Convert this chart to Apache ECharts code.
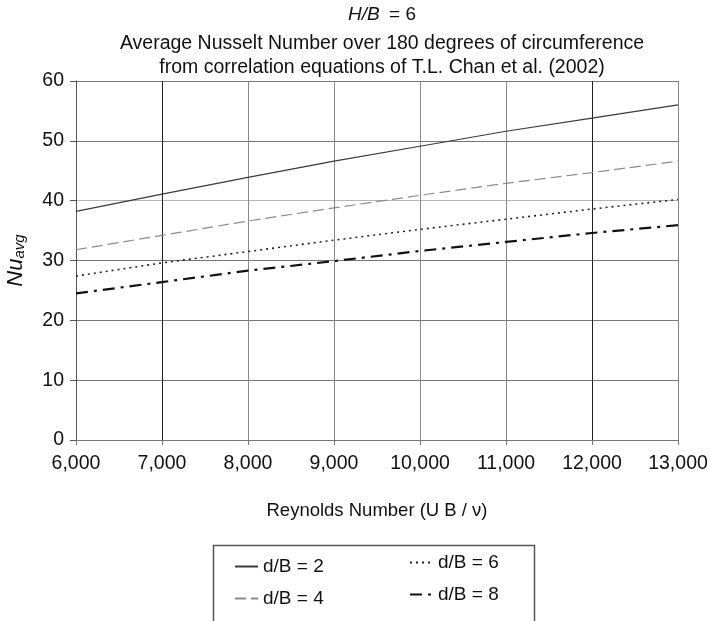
<!DOCTYPE html>
<html>
<head>
<meta charset="utf-8">
<style>
  html, body { margin: 0; padding: 0; background: #fff; }
  #chart { width: 710px; height: 621px; }
</style>
<script src="https://cdn.jsdelivr.net/npm/echarts@6/dist/echarts.min.js"></script>
</head>
<body>
<div id="chart"></div>
<script>
// Reynolds numbers on the x axis
const reynolds = [6000, 7000, 8000, 9000, 10000, 11000, 12000, 13000];

// Nu_avg for each d/B
const nuDB2 = [38.2, 41.1, 43.9, 46.6, 49.1, 51.6, 53.8, 56.0];
const nuDB4 = [31.8, 34.2, 36.6, 38.8, 40.9, 42.9, 44.7, 46.6];
const nuDB6 = [27.4, 29.6, 31.5, 33.4, 35.2, 36.9, 38.6, 40.2];
const nuDB8 = [24.5, 26.4, 28.3, 29.9, 31.6, 33.1, 34.6, 35.9];

const seriesNames = ['d/B = 2', 'd/B = 4', 'd/B = 6', 'd/B = 8'];

const FONT = '"Liberation Sans", Arial, sans-serif';

function pairs(values) {
    return reynolds.map((re, i) => [re, values[i]]);
}

function fmtThousands(v) {
    return String(v).replace(/\B(?=(\d{3})+(?!\d))/g, ',');
}

const lineStyles = [
    { color: '#3a3a3a', width: 1.2, type: 'solid' },
    { color: '#8a8a8a', width: 1.2, type: [11, 5] },
    { color: '#222', width: 1.6, type: [2, 4] },
    { color: '#111', width: 2.2, type: [12, 6, 3, 6] }
];

const legendCommon = {
    orient: 'vertical',
    itemWidth: 23,
    itemHeight: 14,
    itemGap: 13,
    itemStyle: { opacity: 0 },
    textStyle: { fontFamily: FONT, fontSize: 19, color: '#111' }
};

const chart = echarts.init(document.getElementById('chart'));

chart.setOption({
    backgroundColor: '#fff',
    animation: false,
    textStyle: { fontFamily: FONT, color: '#111' },
    title: [
        {
            text: '{i|H/B} = 6',
            left: 377,
            top: 0,
            textAlign: 'center',
            textStyle: {
                fontFamily: FONT, fontSize: 19, fontWeight: 'normal', color: '#111',
                rich: { i: { fontFamily: FONT, fontSize: 19, fontStyle: 'italic', color: '#111', padding: [0, 4, 0, 0] } }
            }
        },
        {
            text: 'Average Nusselt Number over 180 degrees of circumference\nfrom correlation equations of T.L. Chan et al. (2002)',
            left: 377,
            top: 27,
            textAlign: 'center',
            textStyle: { fontFamily: FONT, fontSize: 19.5, fontWeight: 'normal', color: '#111', lineHeight: 24 }
        }
    ],
    grid: { left: 76, right: 32, top: 81, bottom: 181, outerBoundsMode: 'none' },
    legend: [
        Object.assign({ data: [seriesNames[0], seriesNames[1]], left: 229, top: 552 }, legendCommon),
        Object.assign({ data: [seriesNames[2], seriesNames[3]], left: 404, top: 548 }, legendCommon)
    ],
    graphic: [
        {
            type: 'rect',
            left: 211,
            top: 543,
            shape: { width: 321, height: 100 },
            style: { fill: 'none', stroke: '#555', lineWidth: 1.5 },
            silent: true
        }
    ],
    xAxis: {
        type: 'value',
        min: 6000,
        max: 13000,
        interval: 1000,
        name: 'Reynolds Number (U B / \u03bd)',
        nameLocation: 'middle',
        nameGap: 61,
        nameTextStyle: { fontFamily: FONT, fontSize: 18.5, color: '#111' },
        axisLine: { show: true, onZero: false, lineStyle: { color: '#777', width: 1 } },
        axisTick: { show: true, length: 5, lineStyle: { color: '#777' } },
        axisLabel: {
            fontFamily: FONT, fontSize: 19.5, color: '#111', margin: 14,
            formatter: fmtThousands
        },
        splitLine: {
            show: true,
            lineStyle: { color: ['#8a8a8a', '#222', '#8a8a8a', '#8a8a8a', '#8a8a8a'], width: 1 }
        }
    },
    yAxis: {
        type: 'value',
        min: 0,
        max: 60,
        interval: 10,
        name: '{nu|Nu}{sub|avg}',
        nameLocation: 'middle',
        nameRotate: 90,
        nameGap: 49,
        nameTextStyle: {
            rich: {
                nu: { fontFamily: FONT, fontSize: 22, fontStyle: 'italic', color: '#111', lineHeight: 24, verticalAlign: 'bottom' },
                sub: { fontFamily: FONT, fontSize: 15, fontStyle: 'italic', color: '#111', lineHeight: 24, verticalAlign: 'bottom' }
            }
        },
        axisLine: { show: true, lineStyle: { color: '#555', width: 1 } },
        axisTick: { show: true, length: 6, lineStyle: { color: '#555' } },
        axisLabel: { fontFamily: FONT, fontSize: 19.5, color: '#111', margin: 12 },
        splitLine: {
            show: true,
            lineStyle: { color: ['#777', '#777', '#777', '#777', '#b5b5b5', '#777', '#777'], width: 1 }
        }
    },
    series: [nuDB2, nuDB4, nuDB6, nuDB8].map((vals, i) => ({
        name: seriesNames[i],
        type: 'line',
        data: pairs(vals),
        symbol: 'none',
        smooth: false,
        lineStyle: lineStyles[i],
        itemStyle: { color: lineStyles[i].color }
    }))
});
</script>
</body>
</html>
